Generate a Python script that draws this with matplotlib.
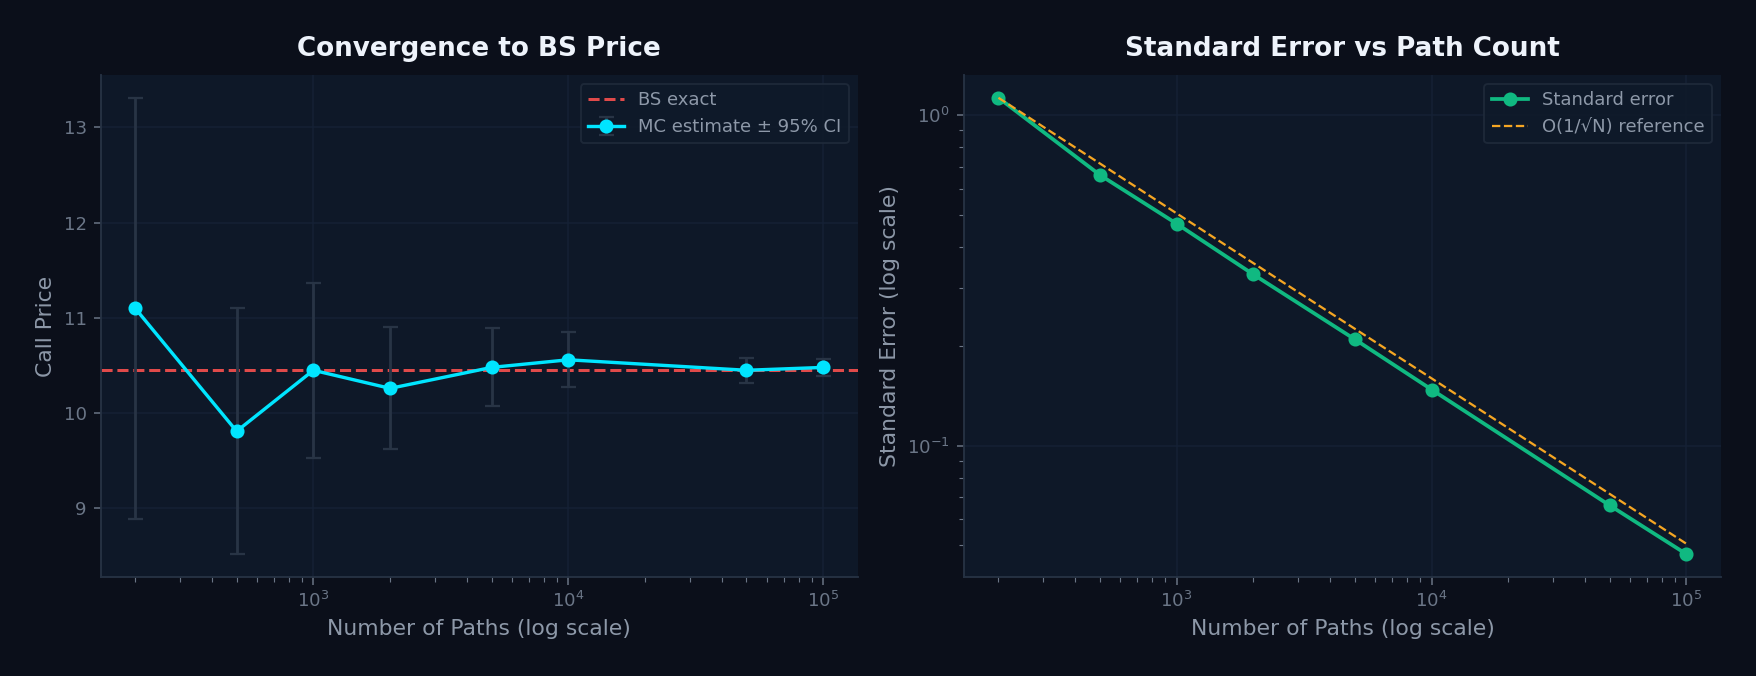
import matplotlib
matplotlib.use("Agg")
import matplotlib.pyplot as plt

# ---- data ----
n_paths = [200, 500, 1000, 2000, 5000, 10000, 50000, 100000]
mc_price = [11.10, 9.81, 10.45, 10.26, 10.48, 10.56, 10.45, 10.48]
ci_half = [2.21, 1.29, 0.92, 0.64, 0.41, 0.29, 0.13, 0.09]
bs_exact = 10.45
std_err = [1.13, 0.66, 0.47, 0.33, 0.21, 0.148, 0.066, 0.047]
ref_line = [1.13, 0.715, 0.505, 0.357, 0.226, 0.160, 0.0715, 0.0505]

titles = ["Convergence to BS Price", "Standard Error vs Path Count"]
xlabel = "Number of Paths (log scale)"
ylabels = ["Call Price", "Standard Error (log scale)"]

# ---- style ----
FIG_BG = "#0b0f1a"
AX_BG = "#0e1828"
SPINE = "#263243"
GRID = "#152135"
TICK = "#6b7687"
LABEL = "#8d98a8"
TITLE = "#eef3fb"

fig = plt.figure(figsize=(1756 / 135, 676 / 135), dpi=135, facecolor=FIG_BG)
ax1 = fig.add_axes([0.0574, 0.1465, 0.431, 0.7426])
ax2 = fig.add_axes([0.549, 0.1465, 0.431, 0.7426])

for ax, t, yl in zip([ax1, ax2], titles, ylabels):
    ax.set_facecolor(AX_BG)
    for s in ax.spines.values():
        s.set_color(SPINE)
        s.set_linewidth(1.0)
    ax.spines["top"].set_visible(False)
    ax.spines["right"].set_visible(False)
    ax.tick_params(colors=TICK, labelsize=9.7, which="both")
    ax.tick_params(which="major", length=4)
    ax.tick_params(which="minor", length=2.5)
    ax.grid(True, which="major", color=GRID, linewidth=0.8)
    ax.set_axisbelow(True)
    ax.set_title(t, color=TITLE, fontsize=14, fontweight="bold", pad=10)
    ax.set_xlabel(xlabel, color=LABEL, fontsize=11.7)
    ax.set_ylabel(yl, color=LABEL, fontsize=11.7)

# left panel
ax1.axhline(bs_exact, color="#e04a4a", linestyle="--", linewidth=1.6, label="BS exact", zorder=2)
ax1.errorbar(n_paths, mc_price, yerr=ci_half, color="#00e5ff", marker="o", markersize=6.5,
             linewidth=1.8, ecolor="#283445", elinewidth=1.5, capsize=4, capthick=1.2,
             label="MC estimate \u00b1 95% CI", zorder=3)
ax1.set_xscale("log")
ax1.legend(loc="upper right", fontsize=9.6, facecolor="#0f1a2a", edgecolor="#1f2a3a",
           labelcolor=LABEL, framealpha=0.9)

# right panel
ax2.plot(n_paths, std_err, color="#10b981", marker="o", markersize=6.5, linewidth=2.0,
         label="Standard error", zorder=3)
ax2.plot(n_paths, ref_line, color="#f5a623", linestyle="--", linewidth=1.2,
         label="O(1/\u221aN) reference", zorder=4)
ax2.set_xscale("log")
ax2.set_yscale("log")
ax2.legend(loc="upper right", fontsize=9.6, facecolor="#0f1a2a", edgecolor="#1f2a3a",
           labelcolor=LABEL, framealpha=0.9)

fig.savefig("out.png", dpi=135, facecolor=FIG_BG)
